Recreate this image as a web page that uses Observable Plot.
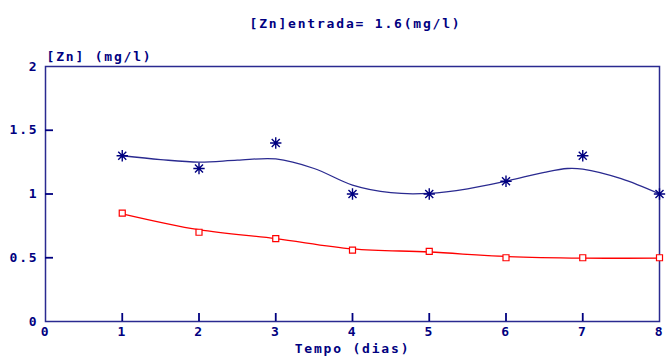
<!DOCTYPE html>
<html><head><meta charset="utf-8">
<script src="https://cdn.jsdelivr.net/npm/d3@7"></script>
<script src="https://cdn.jsdelivr.net/npm/@observablehq/plot@0.6"></script>
<style>body{margin:0;background:#fff}</style>
</head><body><div id="chart"></div>
<script>
const days = [1,2,3,4,5,6,7,8];
const zincMeasured = [1.3,1.2,1.4,1.0,1.0,1.1,1.3,1.0];
const zincOther = [0.85,0.70,0.65,0.56,0.55,0.50,0.50,0.50];
const blueFitX = [1,1.5,2,2.5,3,3.5,4,4.5,5,5.5,6,6.5,6.8,7,7.5,8];
const blueFitY = [1.30,1.27,1.25,1.265,1.275,1.20,1.07,1.01,1.005,1.04,1.10,1.17,1.20,1.195,1.12,1.00];
const redFitX = [1,2,3,4,5,6,7,8];
const redFitY = [0.845,0.72,0.65,0.57,0.545,0.51,0.497,0.497];
const xTicks = [0,1,2,3,4,5,6,7,8];
const yTicks = [0,0.5,1,1.5,2];
const yTickLabels = ["0","0.5","1","1.5","2"];

const navy = "#000080";
const line = "#2a2a90";
const font = "DejaVu Sans Mono";

const asterisk = {
  draw(ctx, size) {
    const r = Math.sqrt(size) * 0.8;
    const d = r * Math.SQRT1_2;
    ctx.moveTo(-r, 0); ctx.lineTo(r, 0);
    ctx.moveTo(0, -r); ctx.lineTo(0, r);
    ctx.moveTo(-d, -d); ctx.lineTo(d, d);
    ctx.moveTo(-d, d); ctx.lineTo(d, -d);
  }
};

const meas = days.map((d,i)=>({x:d,y:zincMeasured[i]}));
const other = days.map((d,i)=>({x:d,y:zincOther[i]}));
const bfit = blueFitX.map((x,i)=>({x,y:blueFitY[i]}));
const rfit = redFitX.map((x,i)=>({x,y:redFitY[i]}));

const chart = Plot.plot({
  width: 666, height: 357,
  marginLeft: 45, marginRight: 7, marginTop: 66, marginBottom: 36,
  style: {fontFamily: font, fontWeight: "bold", fontSize: "13px", color: navy, background: "#fff", letterSpacing: "1.8px"},
  x: {domain: [0,8], label: null},
  y: {domain: [0,2], label: null},
  marks: [
    Plot.frame({stroke: line, strokeWidth: 1.5}),
    Plot.axisX(xTicks, {tickSize: 0, tickPadding: 5, fill: navy, fontSize: 13, fontWeight: "bold"}),
    Plot.axisY(yTicks, {tickSize: 0, tickPadding: 7, fill: navy, fontSize: 13, fontWeight: "bold", tickFormat: d => yTickLabels[yTicks.indexOf(d)]}),
    Plot.tickX(xTicks.slice(1,-1), {x: d => d, stroke: navy, strokeWidth: 1.8, insetTop: 247}),
    Plot.tickY(yTicks.slice(1,-1), {y: d => d, stroke: navy, strokeWidth: 1.8, insetRight: 606}),
    Plot.line(bfit, {x:"x", y:"y", stroke: line, strokeWidth: 1.3, curve: "catmull-rom"}),
    Plot.line(rfit, {x:"x", y:"y", stroke: "#ff0000", strokeWidth: 1.3, curve: "catmull-rom"}),
    Plot.dot(meas, {x:"x", y:"y", symbol: asterisk, r: 4, stroke: navy, strokeWidth: 1.4, fill: "none"}),
    Plot.dot(other, {x:"x", y:"y", symbol: "square", r: 3.4, stroke: "#ff0000", strokeWidth: 1.2, fill: "white"}),
    Plot.text(["[Zn]entrada= 1.6(mg/l)"], {frameAnchor: "top", dx: 3, dy: -48, fill: navy, fontSize: 13, fontWeight: "bold", text: d => d}),
    Plot.text(["[Zn] (mg/l)"], {frameAnchor: "top-left", dx: 1, dy: -15, textAnchor: "start", fill: navy, fontSize: 13, fontWeight: "bold", text: d => d}),
    Plot.text(["Tempo (dias)"], {frameAnchor: "bottom", dx: 0, dy: 31, fill: navy, fontSize: 13, fontWeight: "bold", text: d => d})
  ]
});
document.getElementById("chart").appendChild(chart);
</script></body></html>
